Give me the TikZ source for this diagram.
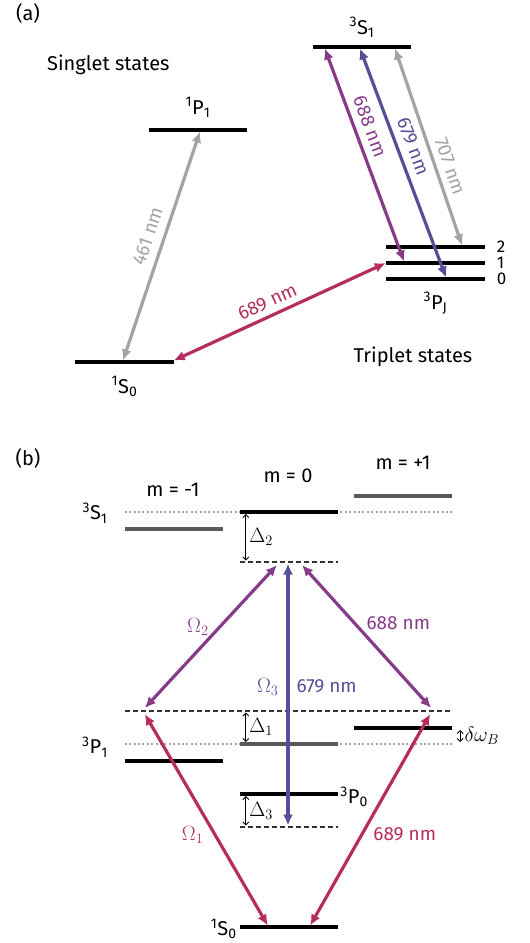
\documentclass[tikz,border=0pt]{standalone}
\usepackage{fontspec}
\setmainfont{Fira Sans}
\usetikzlibrary{arrows.meta, positioning, calc}

\definecolor{red689}{RGB}{181,45,94}
\definecolor{pur688}{RGB}{135,60,138}
\definecolor{blu679}{RGB}{84,80,150}
\definecolor{gry707}{RGB}{163,163,163}
\definecolor{lvlgray}{RGB}{88,88,88}

\newcommand{\trm}[3]{\textsuperscript{#1}#2\textsubscript{#3}}

\begin{document}
\begin{tikzpicture}[x=1pt, y=-1pt, font=\fontsize{20}{24}\selectfont, inner sep=2pt,
  lvl/.style   = {minimum width=98pt, minimum height=0pt, inner sep=0pt},
  lline/.style = {line width=3.1pt},
  dotl/.style  = {line width=1.6pt, draw=gry707, dash pattern=on 2pt off 2.4pt},
  dashl/.style = {line width=1.7pt, draw=black!80, dash pattern=on 5pt off 3pt},
  tr/.style    = {{Latex[length=11pt,width=10pt]}-{Latex[length=11pt,width=10pt]}, line width=3.2pt},
  det/.style   = {{Straight Barb[length=3pt,width=6pt]}-{Straight Barb[length=3pt,width=6pt]}, line width=0.9pt},
  wl/.style    = {font=\fontsize{19}{22}\selectfont},
]
\useasboundingbox (0,0) rectangle (530,943);

% ── (a) Sr level scheme ──────────────────────────────────────────────────────
\node (tagA) at (28,13) {(a)};
\node[lvl] (s1a) at (362,47)    {};
\node[lvl] (p1a) at (198,130)   {};
\node[lvl] (s0a) at (124.5,362) {};
\node[lvl] (pj2) at (435.5,247) {};
\node[lvl] (pj1) at (435.5,263) {};
\node[lvl] (pj0) at (435.5,279) {};
\foreach \n in {s1a,p1a,s0a,pj2,pj1,pj0}
  \draw[lline] (\n.west) -- (\n.east);

\node[above=7pt of s1a]  (s1aL) {\trm{3}{S}{1}};
\node[above=10pt of p1a] (p1aL) {\trm{1}{P}{1}};
\node[below=12pt of s0a] (s0aL) {\trm{1}{S}{0}};
\node[below=11pt of pj0] (pjL)  {\trm{3}{P}{J}};
\foreach \n/\j in {pj2/2, pj1/1, pj0/0}
  \node[right=12pt of \n.east, inner sep=0pt, font=\fontsize{17}{20}\selectfont] (\n-lab) {\j};

\node[anchor=west] (singlet) at (45,65)  {Singlet states};
\node              (triplet) at (413,357) {Triplet states};

% ── (a) transitions ──────────────────────────────────────────────────────────
\draw[tr, gry707] ($(s0a)+(-1.5,-1.5)$) -- ($(p1a)+(2,1.5)$)
  node[wl, pos=0.52, sloped, above=6pt] {461 nm};
\draw[tr, red689] ($(s0a.east)+(0,-1.5)$) -- ($(pj1.west)+(-0.5,0)$)
  node[wl, pos=0.47, sloped, above=4pt] {689 nm};
\draw[tr, pur688] ($(s1a.west)+(12,1.5)$) -- ($(pj1)+(-31.5,-1.5)$)
  node[wl, pos=0.39, sloped, above=5pt] {688 nm};
\draw[tr, blu679] ($(s1a)+(-2,1.5)$) -- ($(pj0)+(10.5,-1.5)$)
  node[wl, pos=0.45, sloped, above=5pt] {679 nm};
\draw[tr, gry707] ($(s1a)+(33,1.5)$) -- ($(pj2)+(26.5,-1.5)$)
  node[wl, pos=0.62, sloped, above=4pt] {707 nm};

% ── (b) Zeeman levels and laser couplings ────────────────────────────────────
\node (tagB) at (28,458) {(b)};
\node[lvl] (s1m) at (174,529) {};
\node[lvl] (s10) at (289,512) {};
\node[lvl] (s1p) at (403,496) {};
\node[lvl] (v2)  at (289,562) {};
\node[lvl, minimum width=327pt] (v1) at (288.5,711) {};
\node[lvl] (p1m) at (174,761) {};
\node[lvl] (p10) at (289,744) {};
\node[lvl] (p1p) at (403,728) {};
\node[lvl] (p0)  at (289,794) {};
\node[lvl] (v3)  at (289,827) {};
\node[lvl] (s0b) at (289,927) {};

\draw[dotl] (s1m.west |- s10) -- (s1p.east |- s10);
\draw[dotl] (p1m.west |- p10) -- (p1p.east |- p10);
\foreach \n in {v2,v1,v3}
  \draw[dashl] (\n.west) -- (\n.east);
\foreach \n in {s1m,s1p,p10}
  \draw[lline, lvlgray] (\n.west) -- (\n.east);
\foreach \n in {s10,p1m,p1p,p0,s0b}
  \draw[lline] (\n.west) -- (\n.east);

\node (mneg)  at (173,490) {m = -1};
\node (mzero) at (288,476) {m = 0};
\node (mpos)  at (403,463) {m = +1};
\node (s1bL)  at (95,513)  {\trm{3}{S}{1}};
\node (p1bL)  at (95,747)  {\trm{3}{P}{1}};
\node[right=0pt of p0.east, yshift=-3pt]  (p0L)  {\trm{3}{P}{0}};
\node[left=1pt of s0b.west, yshift=-2pt]  (s0bL) {\trm{1}{S}{0}};

% detunings
\draw[det] ($(s10.west)+(6,2)$) -- ($(v2.west)+(6,-1.5)$)
  node[midway, right=1pt] {$\Delta_2$};
\draw[det] ($(p10.west |- v1)+(6,1.5)$) -- ($(p10.west)+(6,-2)$)
  node[midway, right=1pt] {$\Delta_1$};
\draw[det] ($(p0.west)+(6,2)$) -- ($(v3.west)+(6,-1.5)$)
  node[midway, right=1pt] {$\Delta_3$};
\draw[det] ($(p1p.east)+(8,2)$) -- ($(p1p.east |- p10)+(8,-2)$)
  node[midway, right=2pt] {$\delta\omega_B$};

% couplings
\draw[tr, pur688] ($(v1.west)+(20,-3)$) -- ($(v2)+(-12,3)$)
  node[pos=0.57, left=8pt] {$\Omega_2$};
\draw[tr, pur688] ($(v2)+(13,3)$) -- ($(v1.east)+(-21,-3)$)
  node[wl, pos=0.41, right=8pt] {688 nm};
\draw[tr, blu679] ($(v2)+(-1,1.5)$) -- ($(v3)+(-1,-1.5)$)
  node[pos=0.47, left=6pt] {$\Omega_3$}
  node[wl, pos=0.47, right=5pt] {679 nm};
\draw[tr, red689] ($(v1.west)+(20,3)$) -- ($(s0b.west)+(28,-1.5)$)
  node[pos=0.57, left=8pt] {$\Omega_1$};
\draw[tr, red689] ($(v1.east)+(-22,3)$) -- ($(s0b.east)+(-28,-1.5)$)
  node[wl, pos=0.57, right=8pt] {689 nm};
\end{tikzpicture}
\end{document}
